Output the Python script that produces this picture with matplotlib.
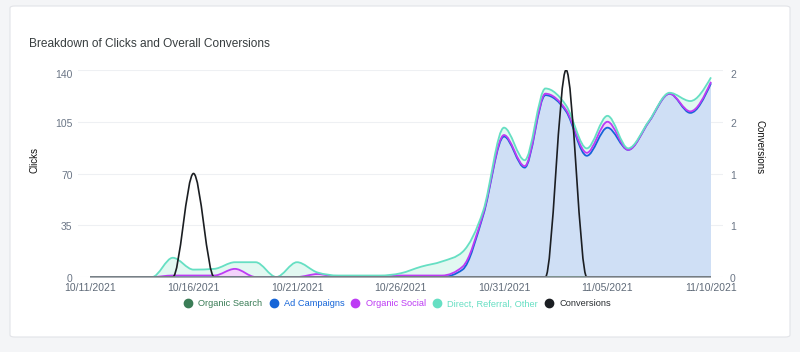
import numpy as np
import pandas as pd
import matplotlib
matplotlib.use("Agg")
import matplotlib.pyplot as plt
import matplotlib.dates as mdates
import matplotlib.transforms as mtransforms
from matplotlib.path import Path
from matplotlib.patches import PathPatch, FancyBboxPatch
from matplotlib.lines import Line2D

plt.rcParams["font.family"] = ["Liberation Sans", "DejaVu Sans"]

# ---------- DATA ----------
dates = pd.date_range("2021-10-11", "2021-11-10", freq="D")

organic_search = [0] * 31
ad_campaigns = [0, 0, 0, 0, 0, 0, 0, 0, 0, 0,
                0, 0, 0, 0, 0, 0, 0, 0, 5, 42,
                95, 74, 123, 112, 82, 101, 86, 105, 124, 111,
                131]
organic_social = [0, 0, 0, 0, 1, 1, 1, 5.5, 0, 0,
                  0, 2, 0, 0, 0, 1, 1, 1, 2, 1,
                  1, 1, 1, 1, 2, 4, 0, 0, 0, 1,
                  1]
direct_other = [0, 0, 0, 0, 12, 4, 4.5, 4.5, 10, 0,
                10, 1, 1, 1, 1, 1.5, 6, 9.5, 10, 2,
                5, 4, 3.5, 3, 3, 4, 1, 0.5, 0.6, 7,
                3]
conversions = [0, 0, 0, 0, 0, 1, 0, 0, 0, 0,
               0, 0, 0, 0, 0, 0, 0, 0, 0, 0,
               0, 0, 0, 2, 0, 0, 0, 0, 0, 0,
               0]

series_names = ["Organic Search", "Ad Campaigns", "Organic Social", "Direct, Referral, Other"]
line_colors = ["#3b7d57", "#1565d8", "#bd3cf4", "#66dfc3"]
fill_colors = ["#d7e8dd", "#cfdff5", "#f3d3fb", "#e2f8f1"]
conv_color = "#1b1e22"


# ---------- smooth (monotone) curve helpers ----------
def tangents(x, y):
    h = np.diff(x)
    s = np.diff(y) / h
    m = np.zeros(len(x))
    for i in range(1, len(x) - 1):
        if s[i - 1] * s[i] > 0:
            p = (s[i - 1] * h[i] + s[i] * h[i - 1]) / (h[i - 1] + h[i])
            m[i] = np.sign(s[i]) * min(2 * abs(s[i - 1]), 2 * abs(s[i]), abs(p))
    m[0] = (3 * s[0] - m[1]) / 2
    m[-1] = (3 * s[-1] - m[-2]) / 2
    return m


def segments(x, y):
    m = tangents(x, y)
    segs = []
    for i in range(len(x) - 1):
        h = x[i + 1] - x[i]
        segs.append(((x[i], y[i]),
                     (x[i] + h / 3, y[i] + m[i] * h / 3),
                     (x[i + 1] - h / 3, y[i + 1] - m[i + 1] * h / 3),
                     (x[i + 1], y[i + 1])))
    return segs


def curve_path(x, y):
    segs = segments(x, y)
    verts = [segs[0][0]]
    codes = [Path.MOVETO]
    for s in segs:
        verts += [s[1], s[2], s[3]]
        codes += [Path.CURVE4] * 3
    return Path(verts, codes)


def band_path(x, low, high):
    up = segments(x, high)
    lo = segments(x, low)
    verts = [up[0][0]]
    codes = [Path.MOVETO]
    for s in up:
        verts += [s[1], s[2], s[3]]
        codes += [Path.CURVE4] * 3
    verts.append(lo[-1][3])
    codes.append(Path.LINETO)
    for s in reversed(lo):
        verts += [s[2], s[1], s[0]]
        codes += [Path.CURVE4] * 3
    verts.append(up[0][0])
    codes.append(Path.CLOSEPOLY)
    return Path(verts, codes)


# ---------- FIGURE ----------
fig = plt.figure(figsize=(8, 3.52), dpi=100)
fig.patch.set_facecolor("#f4f5f7")
card = FancyBboxPatch((10 / 800, 15 / 352), 780 / 800, 331 / 352,
                      boxstyle="round,pad=0,rounding_size=0.006",
                      transform=fig.transFigure, facecolor="white",
                      edgecolor="#e2e4e8", linewidth=0.8, zorder=-5)
fig.patches.append(card)

ax = fig.add_axes([78 / 800, 75 / 352, 645 / 800, 207 / 352])
ax.set_facecolor("none")

x = mdates.date2num(dates.to_pydatetime())
stack = np.cumsum(np.array([organic_search, ad_campaigns, organic_social, direct_other], dtype=float), axis=0)
base = np.zeros(len(x))

low = base
for k in range(4):
    ax.add_patch(PathPatch(band_path(x, low, stack[k]), facecolor=fill_colors[k],
                           edgecolor="none", zorder=1 + k))
    low = stack[k]
for k in range(4):
    ax.add_patch(PathPatch(curve_path(x, stack[k]), facecolor="none",
                           edgecolor=line_colors[k], linewidth=1.3, zorder=6 + k))

pad = 0.58
ax.set_xlim(x[0] - pad, x[-1] + pad)
ax.set_ylim(0, 140)
ax.set_yticks([0, 35, 70, 105, 140])
ax.grid(axis="y", color="#eef0f3", linewidth=0.8)
ax.set_axisbelow(True)
ax.set_xticks(x[::5])
ax.xaxis.set_major_formatter(mdates.DateFormatter("%m/%d/%Y"))
for sp in ax.spines.values():
    sp.set_visible(False)
ax.tick_params(axis="y", length=0, labelsize=7.5, labelcolor="#6b7686", pad=4)
ax.tick_params(axis="x", length=0, labelsize=7.5, labelcolor="#5f6a78", pad=4.5)
ax.set_ylabel("Clicks", fontsize=7, color="#111111")
ax.yaxis.set_label_coords(-0.059, 0.565)

ax2 = ax.twinx()
ax2.set_ylim(0, 2)
ax2.set_yticks([0, 0.5, 1, 1.5, 2])
ax2.set_yticklabels(["0", "1", "1", "2", "2"])
ax2.add_patch(PathPatch(curve_path(x, np.array(conversions, dtype=float)), facecolor="none",
                        edgecolor=conv_color, linewidth=1.2, zorder=10))
# x-axis border over the data range
ax2.hlines(0, x[0], x[-1], color="#90969d", linewidth=1.1, clip_on=False, zorder=12)
for sp in ax2.spines.values():
    sp.set_visible(False)
ax2.tick_params(axis="y", length=0, labelsize=7.5, labelcolor="#6b7686", pad=5)
ax2.set_ylabel("Conversions", fontsize=7, color="#111111", rotation=-90, va="center")
ax2.yaxis.set_label_coords(1.057, 0.628)

# y labels sit slightly below their grid lines, the top one a bit more
for labs in (ax.get_yticklabels(), ax2.get_yticklabels()):
    for i, lab in enumerate(labs):
        dy = 4 if i == len(labs) - 1 else 1
        shift = mtransforms.ScaledTranslation(0, -dy / 100, fig.dpi_scale_trans)
        lab.set_transform(lab.get_transform() + shift)

fig.text(29 / 800, 1 - 44 / 352, "Breakdown of Clicks and Overall Conversions",
         fontsize=8.55, color="#373d3f", va="center", ha="left")

handles = [Line2D([], [], marker="o", linestyle="", markersize=6, color=c) for c in line_colors]
handles.append(Line2D([], [], marker="o", linestyle="", markersize=6, color=conv_color))
labels = series_names + ["Conversions"]
leg = fig.legend(handles, labels, loc="center", bbox_to_anchor=(0.497, 1 - 304 / 352),
                 ncol=5, frameon=False, fontsize=6.7, handletextpad=0.7,
                 columnspacing=0.78, handlelength=0.8)
text_colors = ["#3b7d57", "#1565d8", "#bd3cf4", "#66dfc3", "#2b2f33"]
for t, c in zip(leg.get_texts(), text_colors):
    t.set_color(c)

fig.savefig("out.png", dpi=100, facecolor=fig.get_facecolor())
